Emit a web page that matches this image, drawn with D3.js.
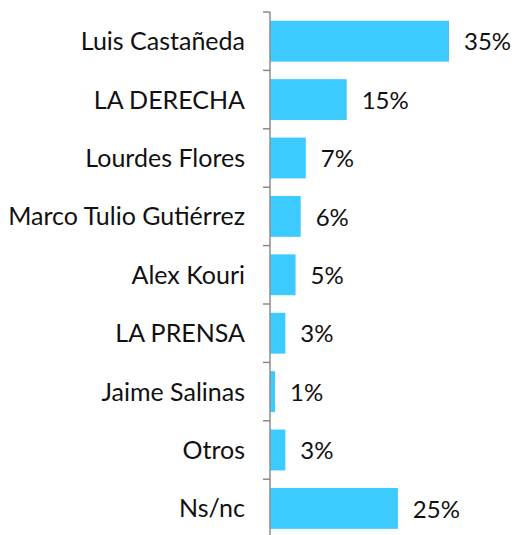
<!DOCTYPE html>
<html>
<head>
<meta charset="utf-8" />
<title>bar chart</title>
<style>
  body { margin: 0; background: #fff; }
  text { font-family: Lato, "Open Sans", sans-serif; fill: #111; }
</style>
</head>
<body>
<div id="chart"></div>
<script src="https://d3js.org/d3.v7.min.js"></script>
<script>
const width = 515
const height = 535

// data
const names = ["Luis Castañeda", "LA DERECHA", "Lourdes Flores", "Marco Tulio Gutiérrez",
  "Alex Kouri", "LA PRENSA", "Jaime Salinas", "Otros", "Ns/nc"]
const values = [35, 15, 7, 6, 5, 3, 1, 3, 25]
const valueLabels = ["35%", "15%", "7%", "6%", "5%", "3%", "1%", "3%", "25%"]

const x0 = 270
const svg = d3.select("#chart").append("svg")
  .attr("width", width)
  .attr("height", height)

const x = d3.scaleLinear().domain([0, 35]).range([x0, x0 + 179])
const y = d3.scaleBand().domain(names).range([12, 537.6]).paddingInner(0.3).paddingOuter(0.15)

// bars
svg.selectAll("rect.bar")
  .data(names)
  .enter().append("rect")
  .attr("class", "bar")
  .attr("x", x(0))
  .attr("y", d => y(d))
  .attr("width", (d, i) => x(values[i]) - x(0))
  .attr("height", y.bandwidth())
  .attr("fill", "#3dcbff")

// value labels
svg.selectAll("text.val")
  .data(names)
  .enter().append("text")
  .attr("class", "val")
  .attr("x", (d, i) => x(values[i]) + 15)
  .attr("y", d => y(d) + y.bandwidth() / 2)
  .attr("dy", "0.38em")
  .attr("font-size", 24)
  .text((d, i) => valueLabels[i])

// category labels
svg.selectAll("text.cat")
  .data(names)
  .enter().append("text")
  .attr("class", "cat")
  .attr("x", 245)
  .attr("y", d => y(d) + y.bandwidth() / 2)
  .attr("dy", "0.36em")
  .attr("text-anchor", "end")
  .attr("font-size", 25)
  .text(d => d)

// axis line with ticks between categories
const step = y.step()
const tickYs = d3.range(names.length + 1).map(i => 12 + i * step)
svg.append("line")
  .attr("x1", x0).attr("x2", x0)
  .attr("y1", 12).attr("y2", 537.6)
  .attr("stroke", "#8c8c8c").attr("stroke-width", 1.5)
svg.selectAll("line.tick")
  .data(tickYs)
  .enter().append("line")
  .attr("class", "tick")
  .attr("x1", x0 - 7).attr("x2", x0)
  .attr("y1", d => d).attr("y2", d => d)
  .attr("stroke", "#8c8c8c").attr("stroke-width", 1.5)
</script>
</body>
</html>
